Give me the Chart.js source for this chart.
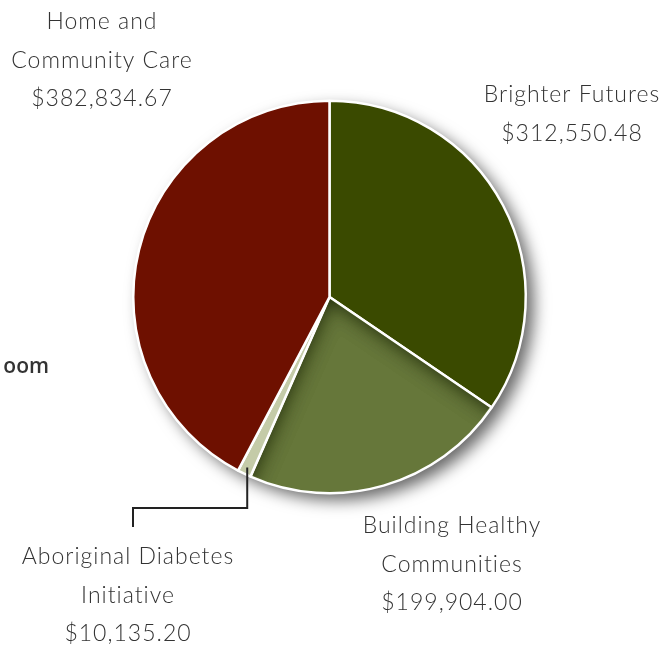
<!DOCTYPE html>
<html>
<head>
<meta charset="utf-8">
<script src="https://cdn.jsdelivr.net/npm/chart.js@4.4.1/dist/chart.umd.min.js"></script>
<style>
  html, body { margin: 0; padding: 0; background: #fff; }
  #wrap { width: 667px; height: 646px; position: relative; }
</style>
</head>
<body>
<div id="wrap"><canvas id="pie" width="667" height="646"></canvas></div>
<script>
// data
const categories = ["Brighter Futures", "Building Healthy Communities", "Aboriginal Diabetes Initiative", "Home and Community Care"];
const amounts = [312550.48, 199904.00, 10135.20, 382834.67];
const labelLines = [
  ["Brighter Futures"],
  ["Building Healthy", "Communities"],
  ["Aboriginal Diabetes", "Initiative"],
  ["Home and", "Community Care"]
];
const colors = ["#3a4a00", "#66773a", "#c4cba8", "#6e1000"];

// where each label block sits (center x, first line middle y)
const labelPos = [[572, 95], [452, 526], [128, 557], [102, 22]];
const lineH = 38.5;

const money = v => "$" + v.toLocaleString("en-US", { minimumFractionDigits: 2, maximumFractionDigits: 2 });

const shadowPlugin = {
  id: "shadow",
  beforeDatasetsDraw(chart) {
    const arc = chart.getDatasetMeta(0).data[0];
    if (!arc) return;
    const { x, y, outerRadius } = arc.getProps(["x", "y", "outerRadius"], true);
    const ctx = chart.ctx;
    ctx.save();
    ctx.shadowColor = "rgba(0,0,0,0.6)";
    ctx.shadowBlur = 16;
    ctx.shadowOffsetX = 8;
    ctx.shadowOffsetY = 7;
    ctx.beginPath();
    ctx.arc(x, y, outerRadius, 0, Math.PI * 2);
    ctx.fillStyle = "#fff";
    ctx.fill();
    ctx.restore();
  },
  afterDatasetsDraw(chart) {
    // inset shading along the straight edges of the Building Healthy slice
    const a = chart.getDatasetMeta(0).data[1];
    const p = a.getProps(["x", "y", "startAngle", "endAngle", "outerRadius"], true);
    const ctx = chart.ctx;
    const wedge = (r, inset) => {
      const d = inset / Math.sin((p.endAngle - p.startAngle) / 2);
      const m = (p.startAngle + p.endAngle) / 2;
      const cx = p.x + Math.cos(m) * d, cy = p.y + Math.sin(m) * d;
      ctx.moveTo(cx, cy);
      ctx.arc(p.x, p.y, r, p.startAngle + inset / r, p.endAngle - inset / r);
      ctx.closePath();
    };
    ctx.save();
    ctx.beginPath();
    wedge(p.outerRadius - 2, 1.5);
    ctx.clip();
    for (let k = 0; k < 2; k++) {
      ctx.beginPath();
      ctx.rect(0, 0, chart.width, chart.height);
      wedge(p.outerRadius + 60, -3);
      ctx.shadowColor = "rgba(25,35,5,0.8)";
      ctx.shadowBlur = 22;
      ctx.fillStyle = "#000";
      ctx.fill("evenodd");
    }
    ctx.restore();
  }
};

const labelPlugin = {
  id: "labels",
  afterDraw(chart) {
    const ctx = chart.ctx;
    ctx.save();
    ctx.fillStyle = "#333";
    ctx.font = "300 23px Lato";
    ctx.letterSpacing = "1px";
    ctx.textAlign = "center";
    ctx.textBaseline = "middle";
    labelLines.forEach((lines, i) => {
      const [lx, ly] = labelPos[i];
      const all = lines.concat([money(amounts[i])]);
      all.forEach((t, k) => ctx.fillText(t, lx, ly + k * lineH));
    });
    ctx.letterSpacing = "0px";

    // leader line for the small slice
    const a = chart.getDatasetMeta(0).data[2];
    const p = a.getProps(["x", "y", "startAngle", "endAngle", "outerRadius"], true);
    const mid = (p.startAngle + p.endAngle) / 2;
    const sx = p.x + Math.cos(mid) * (p.outerRadius - 7);
    const sy = p.y + Math.sin(mid) * (p.outerRadius - 7);
    const ex = labelPos[2][0] + 5;
    ctx.strokeStyle = "#222";
    ctx.lineWidth = 2;
    ctx.beginPath();
    ctx.moveTo(sx, sy);
    ctx.lineTo(sx, 508);
    ctx.lineTo(ex, 508);
    ctx.lineTo(ex, 527);
    ctx.stroke();

    // cut-off text at left edge
    ctx.fillStyle = "#333";
    ctx.font = "600 21px 'Open Sans'";
    ctx.textAlign = "right";
    ctx.fillText("oom", 49, 367);
    ctx.restore();
  }
};

new Chart(document.getElementById("pie"), {
  type: "pie",
  data: {
    labels: categories,
    datasets: [{
      data: amounts,
      backgroundColor: colors,
      borderColor: "#fff",
      borderWidth: 2.5,
      hoverOffset: 0
    }]
  },
  options: {
    responsive: false,
    animation: false,
    layout: { padding: { left: 132, right: 140, top: 99, bottom: 151 } },
    plugins: { legend: { display: false }, tooltip: { enabled: false } }
  },
  plugins: [shadowPlugin, labelPlugin]
});
</script>
</body>
</html>
